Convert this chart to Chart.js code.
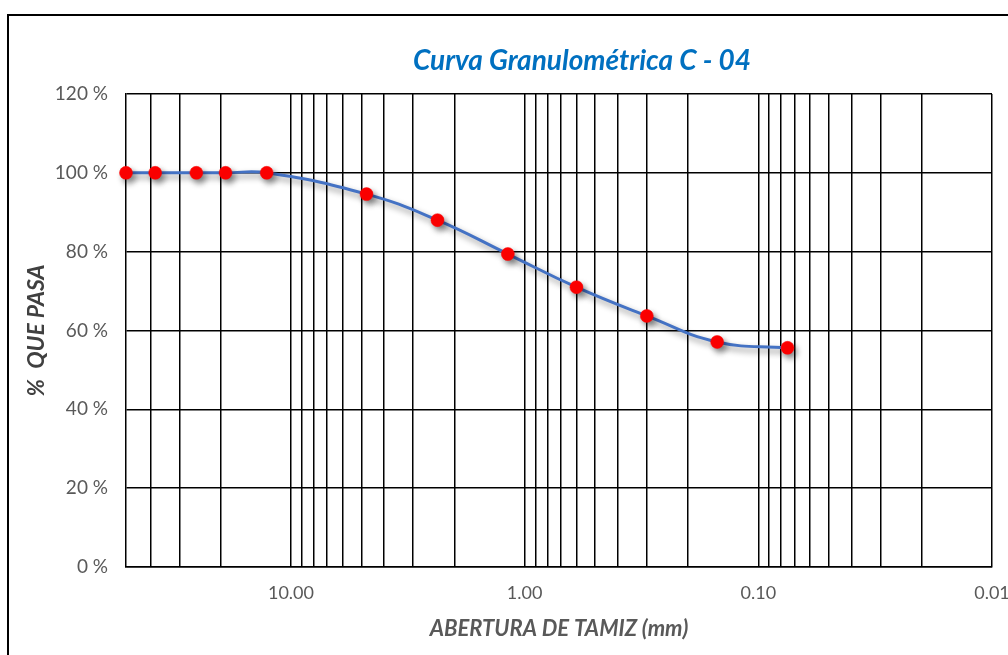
<!DOCTYPE html>
<html>
<head>
<meta charset="utf-8">
<script src="https://cdn.jsdelivr.net/npm/chart.js@4/dist/chart.umd.min.js"></script>
<style>
    html, body { margin: 0; padding: 0; background: #fff; }
    #wrap { position: relative; width: 1008px; height: 655px; overflow: hidden; }
    #marco { position: absolute; left: 7px; top: 14px; width: 1100px; height: 700px;
             border: 2px solid #000; box-sizing: border-box; pointer-events: none; }
    #titulo { position: absolute; left: 582px; top: 42px; transform: translateX(-50%);
              font: italic bold 28px Lato, "Open Sans", sans-serif; color: #0070C0; white-space: nowrap; }
</style>
</head>
<body>
<div id="wrap">
    <canvas id="curva" width="1008" height="655"></canvas>
    <div id="marco"></div>
    <div id="titulo">Curva Granulométrica C - 04</div>
</div>
<script>
// abertura de tamiz (mm) y porcentaje que pasa
const aberturas = [50.8, 38.1, 25.4, 19.05, 12.7, 4.75, 2.36, 1.18, 0.6, 0.3, 0.15, 0.075];
const pasa = [100, 100, 100, 100, 100, 94.6, 88.0, 79.4, 71.0, 63.7, 57.1, 55.6];

const xMin = 0.01, xMax = 50.8;
const yTicks = [0, 20, 40, 60, 80, 100, 120];

const gris = "#595959";
const fuente = "Lato, 'Open Sans', sans-serif";

// drop shadow under the curve and markers
const sombra = {
    id: "sombra",
    beforeDatasetsDraw(chart) {
        const c = chart.ctx;
        c.save();
        c.shadowColor = "rgba(0, 0, 0, 0.45)";
        c.shadowBlur = 6;
        c.shadowOffsetX = 3;
        c.shadowOffsetY = 4;
    },
    afterDatasetsDraw(chart) {
        chart.ctx.restore();
    }
};

new Chart(document.getElementById("curva").getContext("2d"), {
    type: "scatter",
    data: {
        datasets: [{
            data: aberturas.map((a, i) => ({x: a, y: pasa[i]})),
            showLine: true,
            tension: 0.45,
            borderColor: "#4472C4",
            borderWidth: 3,
            pointRadius: 6.5,
            pointBackgroundColor: "#FF0000",
            pointBorderColor: "#FF0000",
            pointBorderWidth: 0.5,
            clip: false
        }]
    },
    options: {
        responsive: false,
        animation: false,
        layout: {
            padding: {left: 0, top: 94, right: 16, bottom: 0}
        },
        scales: {
            x: {
                type: "logarithmic",
                reverse: true,
                min: xMin,
                max: xMax,
                afterBuildTicks: (scale) => {
                    // log grid: 1..9 per decade, no line right next to the left edge
                    const t = [];
                    for (let e = -2; e <= 1; e++) {
                        for (let s = 1; s <= 9; s++) {
                            const v = +(s * Math.pow(10, e)).toFixed(4);
                            if (v < xMax * 0.97) t.push({value: v});
                        }
                    }
                    scale.ticks = t;
                },
                afterFit: (scale) => { scale.height = 88; },
                grid: {color: "#000", lineWidth: 1.5, drawTicks: false},
                border: {color: "#000", width: 1.5},
                ticks: {
                    autoSkip: false,
                    maxRotation: 0,
                    padding: 15,
                    color: gris,
                    font: {family: fuente, size: 18},
                    callback: (v) => {
                        const l = Math.log10(v);
                        return Math.abs(l - Math.round(l)) < 1e-6 ? v.toFixed(2) : "";
                    }
                },
                title: {
                    display: true,
                    text: "ABERTURA DE TAMIZ (mm)",
                    color: gris,
                    font: {family: fuente, size: 22, style: "italic", weight: "bold"},
                    padding: {top: 0, bottom: 13}
                }
            },
            y: {
                min: 0,
                max: 120,
                afterBuildTicks: (scale) => { scale.ticks = yTicks.map(v => ({value: v})); },
                afterFit: (scale) => { scale.width = 126; },
                grid: {color: "#000", lineWidth: 1.5, drawTicks: false},
                border: {color: "#000", width: 1.5},
                ticks: {
                    padding: 18,
                    color: gris,
                    font: {family: fuente, size: 19},
                    callback: (v) => v + " %"
                },
                title: {
                    display: true,
                    text: "%  QUE PASA",
                    color: "#404040",
                    font: {family: fuente, size: 23, style: "italic", weight: "bold"},
                    padding: {top: 23, bottom: 0}
                }
            }
        },
        plugins: {
            legend: {display: false},
            tooltip: {enabled: false}
        }
    },
    plugins: [sombra]
});
</script>
</body>
</html>
